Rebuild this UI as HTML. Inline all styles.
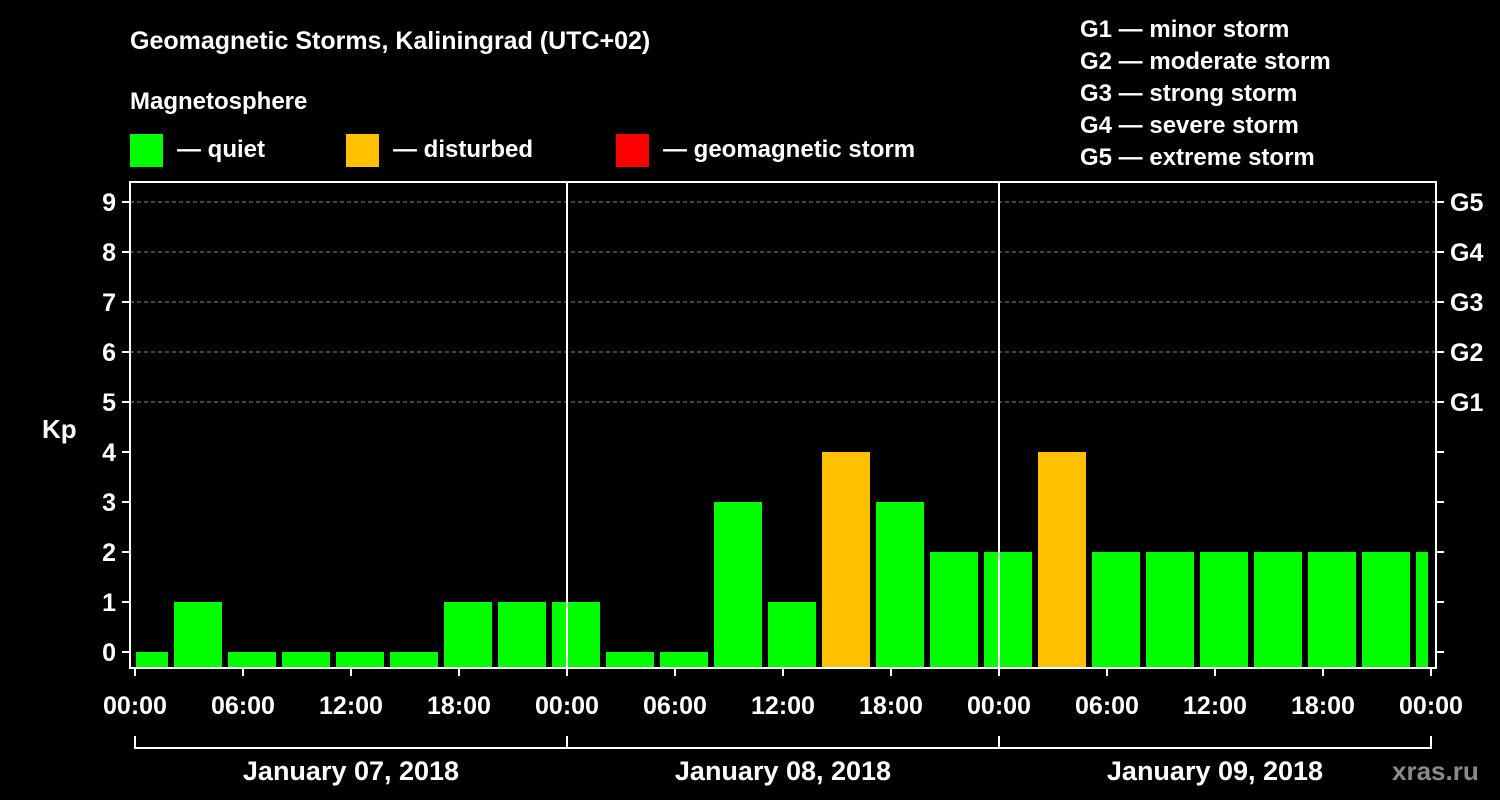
<!DOCTYPE html>
<html><head><meta charset="utf-8"><style>
body{margin:0;background:#000;width:1500px;height:800px;overflow:hidden}
svg{display:block}
text{font-family:"Liberation Sans",Arial,sans-serif;font-weight:bold;fill:#fff}
</style></head><body>
<svg id="chart" width="1500" height="800" xmlns="http://www.w3.org/2000/svg">
<text x="130" y="49" font-size="25">Geomagnetic Storms, Kaliningrad (UTC+02)</text>
<text x="130" y="109" font-size="24">Magnetosphere</text>
<g>
<rect x="130" y="134" width="33" height="33" fill="#00ff00"/>
<text x="177" y="157" font-size="24">— quiet</text>
<rect x="346" y="134" width="33" height="33" fill="#ffc000"/>
<text x="393" y="157" font-size="24">— disturbed</text>
<rect x="616" y="134" width="33" height="33" fill="#ff0000"/>
<text x="663" y="157" font-size="24">— geomagnetic storm</text>
</g>
<g font-size="24">
<text x="1080" y="37">G1 — minor storm</text>
<text x="1080" y="69">G2 — moderate storm</text>
<text x="1080" y="101">G3 — strong storm</text>
<text x="1080" y="133">G4 — severe storm</text>
<text x="1080" y="165">G5 — extreme storm</text>
</g>
<text x="42" y="438" font-size="26">Kp</text>
<g id="grid"></g><g id="bars"></g><g id="axes"></g>
<text x="1392" y="780" font-size="26" fill="#888" style="fill:#8a8a8a">xras.ru</text>
</svg>
<script>
const values=[0,1,0,0,0,0,1,1, 1,0,0,3,1,4,3,2, 2,4,2,2,2,2,2,2, 2];
const yTicks=[0,1,2,3,4,5,6,7,8,9];
const gLabels=["G1","G2","G3","G4","G5"];
const xTickLabels=["00:00","06:00","12:00","18:00","00:00","06:00","12:00","18:00","00:00","06:00","12:00","18:00","00:00"];
const dayLabels=["January 07, 2018","January 08, 2018","January 09, 2018"];
const NS="http://www.w3.org/2000/svg";
const L=130,R=1436,T=182,B=668;
const x0=135,pxH=18;
const xs=h=>x0+h*pxH;
const ys=v=>652-50*v;
function mk(p,tag,a){const e=document.createElementNS(NS,tag);for(const k in a)e.setAttribute(k,a[k]);document.getElementById(p).appendChild(e);return e;}
function col(v){return v>=5?"#ff0000":v>=4?"#ffc000":"#00ff00";}
yTicks.forEach(v=>{if(v>=5){const l=mk("grid","line",{x1:L,x2:R,y1:ys(v),y2:ys(v),stroke:"#888","stroke-dasharray":"4,3","stroke-width":1});

}});
values.forEach((v,i)=>{const c=xs(0.5+3*i);let a=Math.max(c-24,L+6),b=Math.min(c+24,R-8);
const r=mk("bars","rect",{x:a,y:ys(v),width:b-a,height:B-ys(v),fill:col(v)});

});
const fr=mk("axes","rect",{x:L,y:T,width:R-L,height:B-T,fill:"none",stroke:"#fff","stroke-width":2});


[24,48].forEach(h=>{const l=mk("axes","line",{x1:xs(h),x2:xs(h),y1:T,y2:B,stroke:"#fff","stroke-width":2});

});
yTicks.forEach(v=>{mk("axes","line",{x1:L-8,x2:L,y1:ys(v),y2:ys(v),stroke:"#fff","stroke-width":2});
mk("axes","line",{x1:R,x2:R+8,y1:ys(v),y2:ys(v),stroke:"#fff","stroke-width":2});
const t=mk("axes","text",{x:L-14,y:ys(v)+9,"font-size":25,"text-anchor":"end"});t.textContent=v;

});
gLabels.forEach((g,i)=>{const t=mk("axes","text",{x:R+14,y:ys(5+i)+9,"font-size":25});t.textContent=g;

});
xTickLabels.forEach((s,i)=>{const x=xs(6*i);mk("axes","line",{x1:x,x2:x,y1:B,y2:B+8,stroke:"#fff","stroke-width":2});
const t=mk("axes","text",{x:x,y:714,"font-size":25,"text-anchor":"middle"});t.textContent=s;

});
mk("axes","line",{x1:xs(0),x2:xs(72),y1:748,y2:748,stroke:"#fff","stroke-width":2});
[0,24,48,72].forEach(h=>mk("axes","line",{x1:xs(h),x2:xs(h),y1:736,y2:749,stroke:"#fff","stroke-width":2}));
dayLabels.forEach((d,i)=>{const t=mk("axes","text",{x:xs(24*i+12),y:780,"font-size":27,"text-anchor":"middle"});t.textContent=d;

});
</script>
</body></html>
